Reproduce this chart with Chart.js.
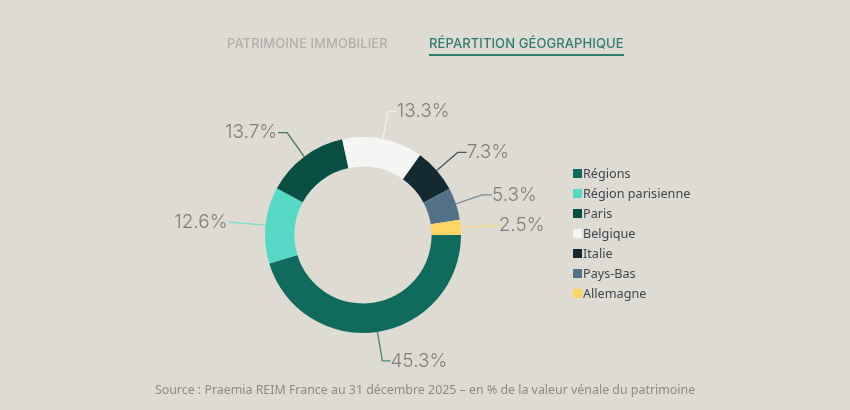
<!DOCTYPE html>
<html lang="fr">
<head>
<meta charset="utf-8">
<title>Répartition géographique</title>
<script src="https://cdn.jsdelivr.net/npm/chart.js@4"></script>
<style>
  html, body { margin: 0; padding: 0; background: #dedbd3; }
  #page { position: relative; width: 850px; height: 410px; overflow: hidden; font-family: "Noto Sans", sans-serif; }
  #grafico { position: absolute; left: 0; top: 0; }
  .onglet { position: absolute; top: 35px; font: 500 13px/16px Inter, sans-serif; letter-spacing: 0.09px; white-space: nowrap; }
  #onglet-patrimoine { left: 227px; color: #b1afaa; }
  #onglet-repartition { left: 429px; color: #2f7d70; padding-bottom: 3px; border-bottom: 2px solid #2f7d70; }
  #legende { position: absolute; left: 573px; top: 163px; list-style: none; margin: 0; padding: 0; }
  #legende li { height: 20px; font-size: 12.65px; line-height: 20px; color: #3f4650; white-space: nowrap; }
  #legende span { display: inline-block; width: 9px; height: 9px; margin-right: 1px; }
  #source { position: absolute; left: 0; width: 850px; top: 381px; text-align: center; font-size: 12.4px; line-height: 18px; color: #8b8a85; }
</style>
</head>
<body>
<div id="page">
  <canvas id="grafico" width="850" height="410"></canvas>
  <div class="onglet" id="onglet-patrimoine">PATRIMOINE IMMOBILIER</div>
  <div class="onglet" id="onglet-repartition">RÉPARTITION GÉOGRAPHIQUE</div>
  <ul id="legende"></ul>
  <div id="source">Source : Praemia REIM France au 31 décembre 2025 – en % de la valeur vénale du patrimoine</div>
</div>
<script>
const zones = ['Régions', 'Région parisienne', 'Paris', 'Belgique', 'Italie', 'Pays-Bas', 'Allemagne'];
const parts = [45.3, 12.6, 13.7, 13.3, 7.3, 5.3, 2.5];
const etiquettes = ['45.3%', '12.6%', '13.7%', '13.3%', '7.3%', '5.3%', '2.5%'];
const couleurs = ['#116a5e', '#55d9c5', '#0a4f43', '#f5f5f4', '#142a33', '#53728a', '#ffd564'];

// Trait de rappel : coude et fin, relatifs au point sur l'anneau
const rappels = [
  { coude: [5, 29], fin: 13 },
  { coude: [-37, -3], fin: -37 },
  { coude: [-17, -24], fin: -26 },
  { coude: [5, -28], fin: 14 },
  { coude: [21, -18], fin: 30 },
  { coude: [26, -9], fin: 36 },
  { coude: [38, -2], fin: 38 }
];

const etiquettesRappel = {
  id: 'etiquettesRappel',
  afterDatasetsDraw(chart) {
    const c = chart.ctx;
    chart.getDatasetMeta(0).data.forEach((arc, i) => {
      const p = arc.getProps(['x', 'y', 'startAngle', 'endAngle', 'outerRadius'], true);
      const milieu = (p.startAngle + p.endAngle) / 2;
      const ax = p.x + Math.cos(milieu) * p.outerRadius;
      const ay = p.y + Math.sin(milieu) * p.outerRadius;
      const r = rappels[i];
      const cx = ax + r.coude[0];
      const cy = ay + r.coude[1];
      const fx = ax + r.fin;

      c.save();
      c.strokeStyle = couleurs[i];
      c.globalAlpha = 0.75;
      c.lineWidth = 1.3;
      c.beginPath();
      c.moveTo(ax, ay);
      c.lineTo(cx, cy);
      c.lineTo(fx, cy);
      c.stroke();
      c.globalAlpha = 1;

      c.font = '300 19px Inter, sans-serif';
      c.fillStyle = '#7f7f7b';
      c.textBaseline = 'middle';
      c.textAlign = r.fin < 0 ? 'right' : 'left';
      c.fillText(etiquettes[i], fx + (r.fin < 0 ? -1 : 0), cy);
      c.restore();
    });
  }
};

new Chart(document.getElementById('grafico').getContext('2d'), {
  type: 'doughnut',
  data: {
    labels: zones,
    datasets: [{
      data: parts,
      backgroundColor: couleurs,
      borderWidth: 0
    }]
  },
  options: {
    responsive: false,
    animation: false,
    rotation: 90,
    cutout: '70%',
    layout: { padding: { left: 265, right: 389, top: 137, bottom: 77 } },
    plugins: {
      legend: { display: false },
      tooltip: { enabled: false }
    }
  },
  plugins: [etiquettesRappel]
});

// Légende
const legende = document.getElementById('legende');
zones.forEach((zone, i) => {
  const li = document.createElement('li');
  li.innerHTML = `<span style="background:${couleurs[i]}"></span>${zone}`;
  legende.appendChild(li);
});
</script>
</body>
</html>
